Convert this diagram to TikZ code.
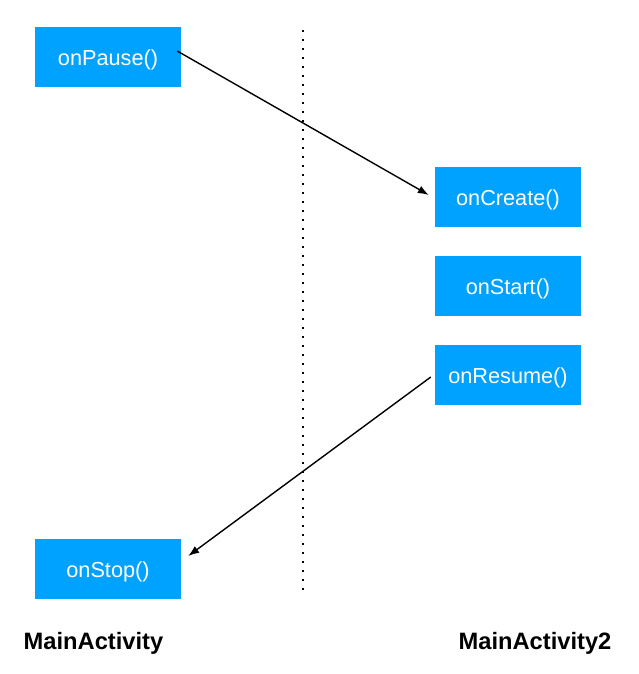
\documentclass[tikz,border=0pt]{standalone}
\usepackage{fontspec}
\setmainfont{Liberation Sans}
\usetikzlibrary{arrows.meta}
\definecolor{boxblue}{HTML}{00A2FF}
\begin{document}
\begin{tikzpicture}[x=1pt,y=-1pt,
    methodbox/.style={fill=boxblue,draw=none,text=white,minimum width=146pt,minimum height=60pt,inner sep=0pt,text height=17pt,text depth=0pt,font=\fontsize{21.7}{26}\selectfont},
    actlabel/.style={inner sep=0pt,font=\fontsize{23.7}{28}\selectfont\bfseries},
    call/.style={-{Latex[length=11pt,width=8pt]},line width=1.4pt}]
    \useasboundingbox (0,0) rectangle (639,674);
    \draw (108,57.5) node[methodbox] (onPause) {onPause()};
    \draw (508,197) node[methodbox] (onCreate) {onCreate()};
    \draw (508,285.5) node[methodbox] (onStart) {onStart()};
    \draw (508,374.5) node[methodbox] (onResume) {onResume()};
    \draw (108,569) node[methodbox] (onStop) {onStop()};
    \draw (93.5,643) node[actlabel] (main) {MainActivity};
    \draw (535,643) node[actlabel] (maintwo) {MainActivity2};
    \coordinate (divtop) at (303,30);
    \coordinate (divbot) at (303,590);
    \draw[line width=2pt,dash pattern=on 2pt off 7pt] (divtop) -- (divbot);
    \draw[call] ([shift={(-4,-6.5)}]onPause.east) -- ([shift={(-6,-2)}]onCreate.west);
    \draw[call] ([shift={(-4,2.5)}]onResume.west) -- ([shift={(7,-13)}]onStop.east);
  \end{tikzpicture}
\end{document}
